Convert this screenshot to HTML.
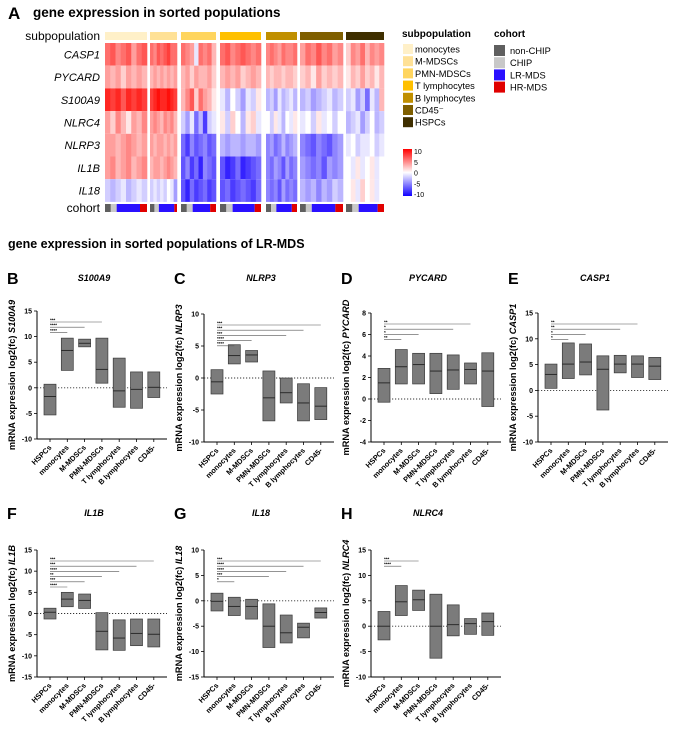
<!DOCTYPE html>
<html><head><meta charset="utf-8"><style>
html,body{margin:0;padding:0;background:#fff;}
svg{display:block;font-family:"Liberation Sans",Arial,sans-serif;}
</style></head><body>
<svg id="fig" width="674" height="740" viewBox="0 0 674 740"></svg>
<script>
// ---------- Heatmap data ----------
const genes = ["CASP1","PYCARD","S100A9","NLRC4","NLRP3","IL1B","IL18"];
const subpops = ["monocytes","M-MDSCs","PMN-MDSCs","T lymphocytes","B lymphocytes","CD45\u207B","HSPCs"];
const subpopColors = ["#fff0c8","#ffe196","#ffd55e","#ffc000","#c08f00","#7f5f00","#3f2f00"];
const cohortNames = ["non-CHIP","CHIP","LR-MDS","HR-MDS"];
const cohortColors = ["#5f5f5f","#c8c8c8","#2a10ff","#e00000"];
const hmMono = [[6,7,5,6,7,4,6,7],[4,3,4,2,4,3,4,3],[9,8,9,7,9,8,9,8],[4,2,5,3,1,4,3,5],[4,4,3,4,5,4,3,4],[4,5,3,4,5,3,4,5],[-2,-3,-2,-1,-3,-2,-1,-2]];
const hmMMDSC = [[6,5,7,6,7,8,6,6],[3,4,3,4,3,4,3,4],[8,9,10,9,9,10,9,8],[4,5,4,3,5,4,5,3],[4,3,4,4,3,4,3,4],[3,4,4,3,4,5,4,3],[-2,-1,-2,-1,-2,0,-1,-4]];
const hmPMN = [[6,5,4,-1,6,5,6,3],[3,4,2,4,3,3,4,2],[3,5,7,2,6,4,3,1],[-2,-4,-1,-6,-3,-8,-2,-1],[-6,-8,-5,-7,-6,-5,-7,-6],[-7,-5,-8,-6,-9,-5,-6,-7],[-7,-9,-6,-8,-7,-6,-8,-7]];
const hmT = [[6,7,5,6,7,6,5,6],[3,4,3,4,2,3,4,3],[-1,-3,0,-2,-4,-1,-2,1],[1,-2,2,0,-3,1,2,-1],[-3,-4,-3,-3,-4,-3,-3,-4],[-7,-9,-8,-6,-9,-8,-7,-6],[-7,-6,-8,-7,-6,-7,-8,-6]];
const hmB = [[5,6,5,4,6,5,5,6],[3,2,3,3,2,3,3,2],[-3,-2,-4,-1,-3,-2,-1,-3],[0,-2,1,-1,-3,0,-1,1],[-5,-4,-6,-5,-3,-5,-4,-3],[-5,-6,-4,-5,-7,-4,-6,-5],[-5,-6,-5,-7,-4,-6,-5,-6]];
const hmCD45 = [[4,6,5,7,5,6,4,5],[2,3,1,4,2,3,2,3],[-3,-2,-4,-3,-2,-1,-3,-2],[-1,0,-2,1,-1,0,-2,0],[-5,-6,-7,-5,-6,-7,-5,-4],[-4,-5,-6,-5,-7,-4,-5,-4],[-3,-4,-3,-5,-3,-4,-2,-3]];
const hmHSPC = [[2,5,4,6,3,5,4,5],[1,3,2,4,2,3,1,3],[-2,-1,-4,-2,-6,-1,-3,3],[-3,-2,-1,-4,-2,0,-3,-2],[-1,0,-2,-1,-1,0,-2,-1],[0,-1,1,-1,0,1,-1,0],[0,1,-1,2,0,1,-1,0]];
const cohortMono=[1,1,4,1.2], cohortMMDSC=[1,1,3.5,0.6], cohortPMN=[1,1,3,1], cohortT=[1,1,3.5,1], cohortB=[1,1,3,1], cohortCD45=[1,1,4,1.3], cohortHSPC=[1,1,3,1];

// ---------- Box-plot data (min, max, median) ----------
const cats = ["HSPCs","monocytes","M-MDSCs","PMN-MDSCs","T lymphocytes","B lymphocytes","CD45-"];
const s100a9Min=[-5.3,3.4,8.0,0.9,-3.8,-4.0,-1.9], s100a9Max=[0.7,9.7,9.5,9.7,5.8,3.1,3.1], s100a9Med=[-1.7,7.3,8.7,3.6,-0.6,-0.3,0.1];
const nlrp3Min=[-2.5,2.2,2.5,-6.7,-3.9,-6.7,-6.5], nlrp3Max=[1.3,5.2,4.3,1.1,0,-0.9,-1.5], nlrp3Med=[-0.6,3.5,3.6,-3.1,-2.3,-3.9,-4.4];
const pycardMin=[-0.3,1.4,1.4,0.5,0.9,1.4,-0.7], pycardMax=[2.85,4.6,4.25,4.25,4.1,3.35,4.3], pycardMed=[1.5,3.0,3.2,2.6,2.7,2.75,2.6];
const casp1Min=[0.4,2.3,3.0,-3.8,3.4,2.5,2.1], casp1Max=[5.1,9.2,9.0,6.7,6.8,6.7,6.4], casp1Med=[3.1,5.1,5.5,4.1,5.1,5.1,4.7];
const il1bMin=[-1.3,1.6,1.2,-8.6,-8.7,-7.6,-7.9], il1bMax=[1.25,5.0,4.6,0.2,-1.5,-1.3,-1.3], il1bMed=[0.3,3.4,3.1,-4.2,-5.8,-4.7,-4.9];
const il18Min=[-2.0,-2.9,-3.6,-9.2,-8.3,-7.3,-3.4], il18Max=[1.5,0.7,0.3,-0.6,-2.8,-4.4,-1.4], il18Med=[-0.1,-1.1,-1.1,-5.0,-6.3,-5.2,-2.3];
const nlrc4Min=[-2.7,2.1,3.1,-6.3,-1.9,-1.6,-1.8], nlrc4Max=[2.9,8.0,7.1,6.3,4.2,1.5,2.6], nlrc4Med=[0,4.8,5.2,0,0.3,0.5,0.9];
const s100a9Sig=[3,2,1], s100a9Stars=["***","****","****"];
const nlrp3Sig=[6,5,4,2,1], nlrp3Stars=["***","***","***","****","****"];
const pycardSig=[5,4,2,1], pycardStars=["**","*","*","**"];
const casp1Sig=[5,4,2,1], casp1Stars=["**","**","*","*"];
const il1bSig=[6,5,4,3,2,1], il1bStars=["***","***","****","**","***","****"];
const il18Sig=[6,5,4,3,1], il18Stars=["***","****","****","***","*"];
const nlrc4Sig=[2,1], nlrc4Stars=["***","****"];

const NS="http://www.w3.org/2000/svg";
const svg=document.getElementById('fig');
function mk(tag,attrs,parent){const e=document.createElementNS(NS,tag);for(const k in attrs)e.setAttribute(k,attrs[k]);(parent||svg).appendChild(e);return e;}
function txt(s,attrs,parent){const t=mk('text',attrs,parent);t.textContent=s;return t;}

// headings
let t=txt("A",{x:8,y:19,'font-size':17,'font-weight':'bold'});

t=txt("gene expression in sorted populations",{x:33,y:17,'font-size':13.5,'font-weight':'bold'});

t=txt("gene expression in sorted populations of LR-MDS",{x:8,y:248,'font-size':12.5,'font-weight':'bold'});


// ---------- heatmap ----------
function hcol(v){
  v=Math.max(-10,Math.min(10,v));const f=Math.abs(v)/10;
  if(v>=0){return `rgb(255,${Math.round(255*(1-f)+15*f)},${Math.round(255*(1-f)+10*f)})`;}
  return `rgb(${Math.round(255*(1-f)+30*f)},${Math.round(255*(1-f)+10*f)},255)`;
}
const hmBlocks=[hmMono,hmMMDSC,hmPMN,hmT,hmB,hmCD45,hmHSPC];
const cohortBlocks=[cohortMono,cohortMMDSC,cohortPMN,cohortT,cohortB,cohortCD45,cohortHSPC];
const blockX=[[105,147],[150,177],[181,216],[220,261],[266,297],[300,343],[346,384]];
const rowTop=43,rowH=22.7;
const hm=mk('g',{});
t=txt("subpopulation",{x:100,y:40,'font-size':12,'text-anchor':'end'});

t=txt("cohort",{x:100,y:212,'font-size':12,'text-anchor':'end'});

genes.forEach((g,r)=>{
  const l=txt(g,{x:100,y:rowTop+rowH*r+rowH/2+4,'font-size':11,'font-style':'italic','text-anchor':'end'});
  
});
hmBlocks.forEach((blk,b)=>{
  const [x0,x1]=blockX[b];const w=x1-x0;
  const sb=mk('rect',{x:x0,y:32,width:w,height:8,fill:subpopColors[b]},hm);
  
  blk.forEach((row,r)=>{
    const cw=w/row.length;
    row.forEach((v,c)=>{
      const cell=mk('rect',{x:x0+c*cw,y:rowTop+r*rowH,width:cw+0.3,height:rowH,fill:hcol(v)},hm);
      
    });
  });
  const co=cohortBlocks[b];const tot=co.reduce((a,c)=>a+c,0);let cx=x0;
  co.forEach((n,i)=>{const cw=w*n/tot;
    const cr=mk('rect',{x:cx,y:204,width:cw,height:8,fill:cohortColors[i]},hm);
    cx+=cw;});
});
// legends
t=txt("subpopulation",{x:402,y:37,'font-size':10,'font-weight':'bold'});

subpops.forEach((s,i)=>{
  const g=mk('g',{});
  mk('rect',{x:403,y:44+i*12.2,width:10,height:10,fill:subpopColors[i]},g);
  txt(s,{x:415,y:52.5+i*12.2,'font-size':9.3},g);
});
t=txt("cohort",{x:494,y:37,'font-size':10,'font-weight':'bold'});

cohortNames.forEach((s,i)=>{
  const g=mk('g',{});
  mk('rect',{x:494,y:45+i*12.2,width:11,height:11,fill:cohortColors[i]},g);
  txt(s,{x:510,y:54+i*12.2,'font-size':9.3},g);
});
const defs=mk('defs',{});
const lg=mk('linearGradient',{id:'cb',x1:0,y1:0,x2:0,y2:1},defs);
[['0','#ff0000'],['0.5','#ffffff'],['1','#1000ff']].forEach(s=>mk('stop',{offset:s[0],'stop-color':s[1]},lg));
const cbg=mk('g',{});
mk('rect',{x:403,y:149,width:9,height:47,fill:'url(#cb)'},cbg);
["10","5","0","-5","-10"].forEach((s,i)=>txt(s,{x:414,y:154+i*10.8,'font-size':7},cbg));

// ---------- box plots ----------
function panel(letter,gene,axisX,top,bottom,ymin,ymax,step,mins,maxs,meds,sig,stars,letterY){
  const g=mk('g',{});
  const y=v=>bottom-(v-ymin)/(ymax-ymin)*(bottom-top);
  const x=i=>axisX+13+17.3*i;
  const right=axisX+130;
  const L=txt(letter,{x:7+(axisX-37),y:letterY,'font-size':16,'font-weight':'bold'},g);
  
  const gt=txt(gene,{x:axisX+57,y:letterY-3,'font-size':9,'font-weight':'bold','font-style':'italic','text-anchor':'middle'},g);
  
  // y axis
  const ax=mk('g',{},g);
  mk('line',{x1:axisX,y1:top,x2:axisX,y2:bottom,stroke:'#000','stroke-width':1},ax);
  for(let v=ymin;v<=ymax+1e-9;v+=step){
    mk('line',{x1:axisX-3,y1:y(v),x2:axisX,y2:y(v),stroke:'#000','stroke-width':0.8},ax);
    txt(String(v),{x:axisX-5,y:y(v)+2.5,'font-size':7,'font-weight':'bold','text-anchor':'end'},ax);
  }
  const cy=(top+bottom)/2;
  const yt=txt("mRNA expression log2(fc) ",{x:axisX-22,y:cy,'font-size':9.2,'font-weight':'bold','text-anchor':'middle',transform:`rotate(-90 ${axisX-22} ${cy})`},g);
  const ts=mk('tspan',{'font-style':'italic'},yt);ts.textContent=gene;
  
  // x axis
  const xa=mk('g',{},g);
  mk('line',{x1:axisX,y1:bottom,x2:right,y2:bottom,stroke:'#000','stroke-width':1},xa);
  cats.forEach((c,i)=>{
    mk('line',{x1:x(i),y1:bottom,x2:x(i),y2:bottom+3,stroke:'#000','stroke-width':0.8},xa);
    const tx=x(i)+2,ty=bottom+9;
    txt(c,{x:tx,y:ty,'font-size':7.4,'font-weight':'bold','text-anchor':'end',transform:`rotate(-45 ${tx} ${ty})`},xa);
  });
  // zero line
  const z=mk('line',{x1:axisX,y1:y(0),x2:right,y2:y(0),stroke:'#333','stroke-width':0.9,'stroke-dasharray':'1.2,1.8'},g);
  
  // boxes
  cats.forEach((c,i)=>{
    const b=mk('g',{},g);
    mk('rect',{x:x(i)-6,y:y(maxs[i]),width:12,height:y(mins[i])-y(maxs[i]),fill:'#7b7b7b',stroke:'#3a3a3a','stroke-width':0.7},b);
    mk('line',{x1:x(i)-6,y1:y(meds[i]),x2:x(i)+6,y2:y(meds[i]),stroke:'#222','stroke-width':0.9},b);
  });
  // significance
  sig.forEach((target,k)=>{
    const ly=top+11+k*5.2;
    const s=mk('g',{},g);
    mk('line',{x1:x(0),y1:ly,x2:x(target),y2:ly,stroke:'#555','stroke-width':0.6},s);
    txt(stars[k],{x:x(0),y:ly-0.6,'font-size':4.5,'font-weight':'bold'},s);
  });
}
panel("B","S100A9",37,311,439,-10,15,5,s100a9Min,s100a9Max,s100a9Med,s100a9Sig,s100a9Stars,284);
panel("C","NLRP3",204,314,442,-10,10,5,nlrp3Min,nlrp3Max,nlrp3Med,nlrp3Sig,nlrp3Stars,284);
panel("D","PYCARD",371,313,442,-4,8,2,pycardMin,pycardMax,pycardMed,pycardSig,pycardStars,284);
panel("E","CASP1",538,313,442,-10,15,5,casp1Min,casp1Max,casp1Med,casp1Sig,casp1Stars,284);
panel("F","IL1B",37,550,677,-15,15,5,il1bMin,il1bMax,il1bMed,il1bSig,il1bStars,519);
panel("G","IL18",204,550,677,-15,10,5,il18Min,il18Max,il18Med,il18Sig,il18Stars,519);
panel("H","NLRC4",371,550,677,-10,15,5,nlrc4Min,nlrc4Max,nlrc4Med,nlrc4Sig,nlrc4Stars,519);
</script>
</body></html>
